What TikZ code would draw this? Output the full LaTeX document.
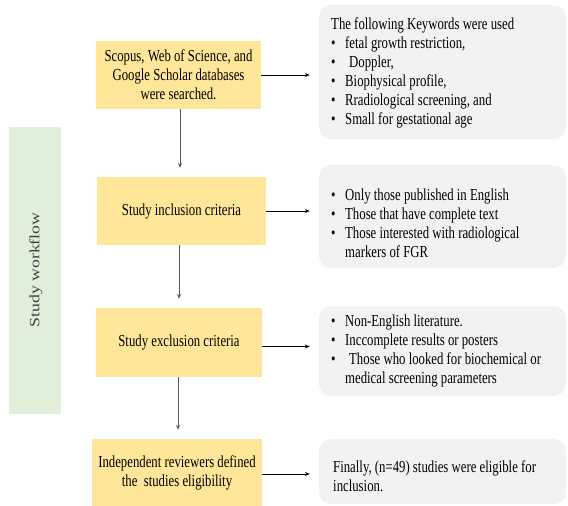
\documentclass[tikz,border=0pt]{standalone}
\usepackage{fontspec}
\setmainfont{Liberation Serif}[FakeStretch=0.76]
\newfontfamily\wfont{Liberation Serif}
\usetikzlibrary{arrows.meta}
\definecolor{yel}{HTML}{FFE699}
\definecolor{grn}{HTML}{E2EFDA}
\definecolor{gry}{HTML}{F2F2F2}
\definecolor{wtxt}{HTML}{404040}
\newcommand{\itm}[1]{\makebox[14pt][l]{\textbullet}#1}
\begin{document}
\begin{tikzpicture}[x=1pt,y=-1pt,
  ybox/.style={fill=yel, draw=none, inner sep=0pt, align=center, text=black,
    font=\fontsize{16.8}{19}\selectfont},
  gbox/.style={fill=gry, draw=none, rounded corners=12pt, inner sep=0pt},
  gtext/.style={anchor=west, inner sep=0pt, align=left, text=black,
    font=\fontsize{16.8}{19}\selectfont},
  harr/.style={-{Stealth[length=5pt,width=4pt]}, line width=0.7pt, black, shorten >=9pt},
  varr/.style={-{Stealth[length=5pt,width=4pt]}, line width=0.7pt, black!65, shorten >=9pt}]
\useasboundingbox (0,0) rectangle (568,506);
% green side bar
\node[fill=grn, draw=none, minimum width=52pt, minimum height=287pt, inner sep=0pt] (wf) at (35,270.5) {};
\node[rotate=90, inner sep=0pt, text=wtxt] (wft) at (36,270) {\wfont\fontsize{17.8}{20}\selectfont\scalebox{1}[0.8]{Study workflow}};
% yellow boxes
\node[ybox, minimum width=165pt, minimum height=68pt] (b1) at (178.5,75) {Scopus, Web of Science, and\\Google Scholar databases\\were searched.};
\node[ybox, minimum width=169pt, minimum height=68pt] (b2) at (181.5,211) {Study inclusion criteria};
\node[ybox, minimum width=166pt, minimum height=69pt] (b3) at (179,342.5) {Study exclusion criteria};
\node[ybox, minimum width=170pt, minimum height=67pt] (b4) at (177,472.5) {Independent reviewers defined\\the\ \ studies eligibility};
% grey boxes
\node[gbox, minimum width=247pt, minimum height=134pt] (g1) at (442.5,72) {};
\node[gbox, minimum width=247pt, minimum height=103pt] (g2) at (442.5,216.5) {};
\node[gbox, minimum width=247pt, minimum height=90pt] (g3) at (442.5,351) {};
\node[gbox, minimum width=247pt, minimum height=65pt] (g4) at (442.5,471.5) {};
% grey texts
\node[gtext] (t1) at (331,72.5) {The following Keywords were used\\
\itm{fetal growth restriction,}\\
\itm{\hspace{4pt}Doppler,}\\
\itm{Biophysical profile,}\\
\itm{Rradiological screening, and}\\
\itm{Small for gestational age}};
\node[gtext] (t2) at (331,223.5) {\itm{Only those published in English}\\
\itm{Those that have complete text}\\
\itm{Those interested with radiological}\\
\hspace{14pt}markers of FGR};
\node[gtext] (t3) at (331,351) {\itm{Non-English literature.}\\
\itm{Inccomplete results or posters}\\
\itm{\hspace{4pt}Those who looked for biochemical or}\\
\hspace{14pt}medical screening parameters};
\node[gtext] (t4) at (333,476) {Finally, (n=49) studies were eligible for\\inclusion.};
% vertical arrows
\draw[varr] ([xshift=1.5pt]b1.south) -- ([xshift=1.5pt]b1.south |- b2.north);
\draw[varr] ([xshift=-2.5pt]b2.south) -- ([xshift=-2.5pt]b2.south |- b3.north);
\draw[varr] ([xshift=-1pt]b3.south) -- ([xshift=-1pt]b3.south |- b4.north);
% horizontal arrows
\draw[harr] (b1.east) -- (b1.east -| g1.west);
\draw[harr] (b2.east) -- (b2.east -| g2.west);
\draw[harr] ([yshift=-4pt]b3.east) -- ([yshift=-4pt]b3.east -| g3.west);
\draw[harr] ([yshift=-1.5pt]b4.east) -- ([yshift=-1.5pt]b4.east -| g4.west);
\end{tikzpicture}
\end{document}
